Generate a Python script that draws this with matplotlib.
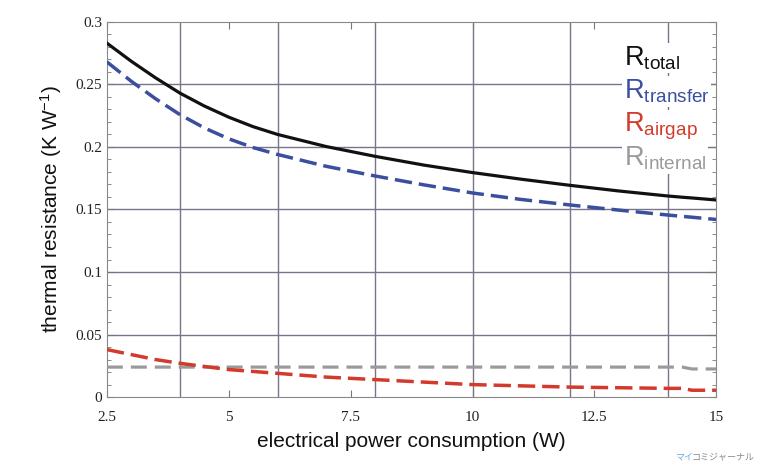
import numpy as np
import matplotlib.pyplot as plt
from matplotlib.ticker import MultipleLocator, FixedLocator

# values
power = [2.5, 3, 3.5, 4, 4.5, 5, 5.5, 6, 7, 8, 9, 10, 11, 12, 13, 14, 14.3, 14.5, 15]
r_total = [0.283, 0.2685, 0.2552, 0.243, 0.2327, 0.2238, 0.2162, 0.210, 0.2003, 0.1925,
           0.1855, 0.1795, 0.1742, 0.1693, 0.1648, 0.1608, 0.1598, 0.1592, 0.1576]
r_transfer = [0.268, 0.2525, 0.2385, 0.2258, 0.2152, 0.2065, 0.1995, 0.194, 0.1845, 0.1768,
              0.1697, 0.1632, 0.158, 0.1536, 0.1495, 0.1456, 0.1445, 0.1438, 0.142]
r_airgap = [0.038, 0.034, 0.030, 0.027, 0.0245, 0.022, 0.0205, 0.019, 0.016, 0.014,
            0.012, 0.010, 0.009, 0.008, 0.0075, 0.007, 0.007, 0.0055, 0.0055]
r_internal = [0.024, 0.024, 0.024, 0.024, 0.024, 0.024, 0.024, 0.024, 0.024, 0.024,
              0.024, 0.024, 0.024, 0.024, 0.024, 0.024, 0.024, 0.0225, 0.0225]

x_ticks = [2.5, 5, 7.5, 10, 12.5, 15]
x_tick_labels = ['2.5', '5', '7.5', '10', '12.5', '15']
y_ticks = [0, 0.05, 0.1, 0.15, 0.2, 0.25, 0.3]
y_tick_labels = ['0', '0.05', '0.1', '0.15', '0.2', '0.25', '0.3']

labels = ['total', 'transfer', 'airgap', 'internal']
colors = ['#111111', '#3b4f9e', '#d33a2c', '#9a9a9a']

plt.rcParams['mathtext.fontset'] = 'custom'
plt.rcParams['mathtext.rm'] = 'Liberation Sans'
plt.rcParams['mathtext.it'] = 'Liberation Sans'

fig = plt.figure(figsize=(7.58, 4.65), dpi=100)
ax = fig.add_axes([0.141, 0.146, 0.804, 0.807])

ax.plot(power, r_total, color=colors[0], lw=2.3, zorder=5)
ax.plot(power, r_transfer, color=colors[1], lw=2.5, dashes=(5, 2), zorder=5)
ax.plot(power, r_airgap, color=colors[2], lw=2.5, dashes=(5, 2), zorder=5)
ax.plot(power, r_internal, color=colors[3], lw=2.3, dashes=(5, 2.5), zorder=4)

ax.set_xlim(2.5, 15)
ax.set_ylim(0, 0.3)
ax.xaxis.set_major_locator(FixedLocator(x_ticks))
ax.set_xticklabels(x_tick_labels)
ax.yaxis.set_major_locator(FixedLocator(y_ticks))
ax.set_yticklabels(y_tick_labels)
ax.yaxis.set_minor_locator(MultipleLocator(0.01))
ax.tick_params(axis='both', which='both', direction='in', colors='#777777',
               labelcolor='#222222', labelsize=11, top=True, right=True)
ax.tick_params(which='major', length=5)
ax.tick_params(which='minor', length=3)
for lab in ax.get_xticklabels() + ax.get_yticklabels():
    lab.set_family('Liberation Serif')
ax.tick_params(axis='x', pad=10)

# grid: vertical lines at 4,6,...,14, horizontal at each 0.05
for gx in [4, 6, 8, 10, 12, 14]:
    ax.axvline(gx, color='#7a7488', lw=1.0, zorder=1)
for gy in [0.05, 0.1, 0.15, 0.2, 0.25]:
    ax.axhline(gy, color='#7a7488', lw=1.0, zorder=1)
for sp in ax.spines.values():
    sp.set_color('#888888')

ax.set_xlabel('electrical power consumption (W)', fontsize=15,
              family='Liberation Sans', color='#111111', labelpad=6)
ax.set_ylabel('thermal resistance (K W$^{-1}$)', fontsize=15,
              family='Liberation Sans', color='#111111', labelpad=8)

# legend as coloured text
leg_y = [0.885, 0.795, 0.707, 0.616]
for lab, c, yy in zip(labels, colors, leg_y):
    ax.text(0.848, yy, r'R$_{\mathrm{%s}}$' % lab, transform=ax.transAxes,
            color=c, fontsize=19.5, family='Liberation Sans', zorder=6,
            va='baseline',
            bbox=dict(facecolor='white', edgecolor='none', pad=1))

fig.text(675 / 758, 0.012, 'マイ', color='#6fa8dc', fontsize=6.5,
         family=['Noto Sans CJK JP'], ha='left')
fig.text(692 / 758, 0.012, 'コミジャーナル', color='#888888', fontsize=6.5,
         family=['Noto Sans CJK JP'], ha='left')

fig.savefig('out.png', dpi=100, facecolor='white')
